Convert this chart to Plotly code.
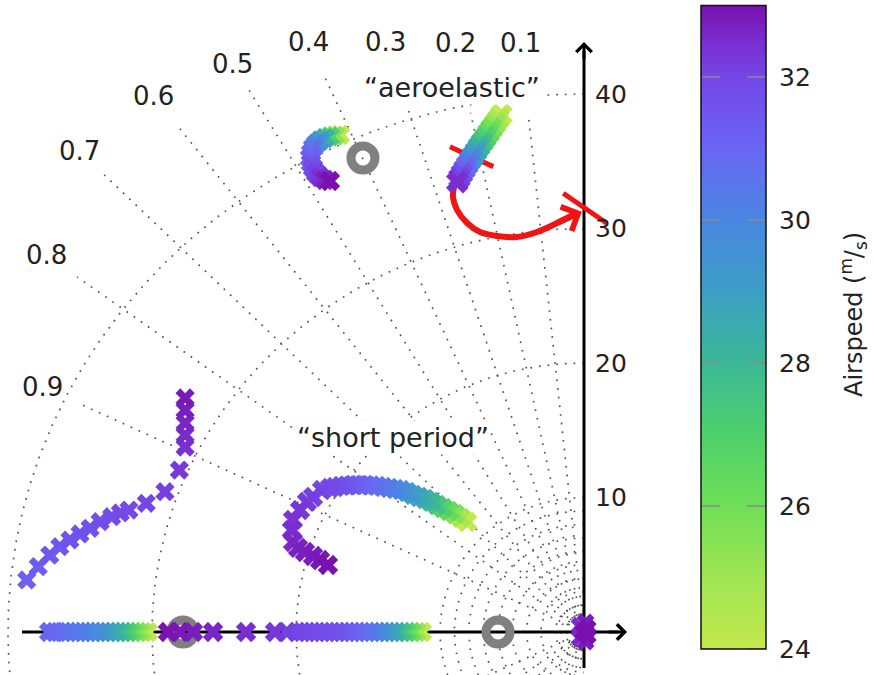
import numpy as np
import plotly.graph_objects as go

# ---------------- grid (s-plane) ----------------
zeta_values = [0.1, 0.2, 0.3, 0.4, 0.5, 0.6, 0.7, 0.8, 0.9]
zeta_line_radius = [38.6, 39.4, 40.6, 45.4, 46.7, 47.1, 47.6, 44.0, 39.0]
zeta_label_radius = [44.0, 44.7, 46.0, 47.9, 48.8, 49.8, 50.05, 46.7, 41.75]
wn_circles = [0.8, 1.2, 1.6, 2, 3, 4, 5, 6, 7, 8, 9, 10, 20, 30, 40]
imag_ticks = [10, 20, 30, 40]
cbar_ticks = [24, 26, 28, 30, 32]
airspeed_range = [24, 33]

# ---------------- root-locus data (airspeed in m/s, poles in 1/s) ----------------
# "aeroelastic" mode, branch near imaginary axis
aeroA_speed = [24.0, 24.6, 25.2, 25.8, 26.4, 27.0, 27.6, 28.2, 28.8, 29.4, 30.0, 30.6, 31.2, 31.7, 32.1, 32.5]
aeroA_re = [-5.74, -5.96, -6.18, -6.41, -6.63, -6.85, -7.07, -7.29, -7.50, -7.71, -7.91, -8.11, -8.30, -8.48, -8.65, -8.80]
aeroA_im = [38.45, 38.12, 37.78, 37.44, 37.10, 36.76, 36.42, 36.08, 35.74, 35.40, 35.07, 34.73, 34.40, 34.07, 33.75, 33.45]

# "aeroelastic" mode, second branch (near zero)
aeroB_speed = [24.0, 25.5, 27.0, 28.3, 29.3, 30.0, 30.5, 30.9, 31.2, 31.5, 31.8, 32.1, 32.4, 32.7, 33.0]
aeroB_re = [-16.94, -17.29, -17.64, -17.99, -18.33, -18.61, -18.82, -18.96, -19.03, -18.96, -18.82, -18.61, -18.33, -17.99, -17.64]
aeroB_im = [36.95, 36.91, 36.84, 36.73, 36.54, 36.28, 35.99, 35.61, 35.24, 34.87, 34.50, 34.13, 33.83, 33.61, 33.53]

# "short period" mode
sp_speed = [24.0, 24.8, 25.6, 26.3, 26.9, 27.5, 28.0, 28.4, 28.8, 29.1, 29.4, 29.7, 30.0, 30.2, 30.4, 30.6,
            30.8, 31.0, 31.2, 31.35, 31.5, 31.65, 31.8, 31.9,
            32.0, 32.1, 32.2, 32.3, 32.4, 32.5, 32.6, 32.7, 32.75, 32.8, 32.9, 33.0]
sp_re = [-8.12, -8.54, -8.96, -9.38, -9.79, -10.21, -10.62, -11.04, -11.46, -11.87, -12.29, -12.71, -13.12, -13.54,
         -13.96, -14.37, -14.79, -15.21, -15.62, -16.04, -16.46, -16.87, -17.29, -17.64,
         -18.19, -18.82, -19.24, -19.72, -20.21, -20.28, -20.21, -19.86, -19.38, -18.82, -18.33, -17.78]
sp_im = [8.18, 8.48, 8.77, 9.00, 9.22, 9.44, 9.67, 9.89, 10.04, 10.19, 10.41, 10.56, 10.63, 10.71, 10.78, 10.86,
         10.89, 10.93, 10.93, 10.93, 10.89, 10.86, 10.78, 10.71,
         10.56, 10.04, 9.67, 9.07, 8.33, 7.58, 6.69, 6.25, 5.95, 5.65, 5.35, 4.98]

# complex branch coming in from the left
left_speed = [31.2, 31.3, 31.4, 31.5, 31.6, 31.65, 31.7, 31.75, 31.8, 31.85, 31.9, 32.0, 32.15, 32.3, 32.45, 32.55, 32.65, 32.75, 32.85]
left_re = [-38.7, -37.9, -37.1, -36.4, -35.7, -35.0, -34.3, -33.6, -32.8, -32.2, -31.6, -30.4, -29.1, -28.1,
           -27.7, -27.7, -27.7, -27.7, -27.7]
left_im = [3.87, 4.86, 5.72, 6.34, 6.84, 7.29, 7.71, 8.20, 8.57, 8.85, 9.07, 9.57, 10.43, 12.04,
           13.75, 14.65, 15.54, 16.50, 17.40]

# real poles, left group
realA_speed = [24.0, 24.8, 25.6, 26.3, 27.0, 27.6, 28.1, 28.5, 28.9, 29.2, 29.5, 29.7, 29.9, 30.1, 30.3, 30.4, 30.5, 30.6, 30.8, 31.0]
realA_re = [-30.28, -30.63, -30.97, -31.32, -31.67, -32.01, -32.36, -32.71, -33.06, -33.40, -33.75, -34.10, -34.44,
            -34.79, -35.14, -35.49, -35.83, -36.18, -36.74, -37.15]
realA_im = [0.0, 0.0, 0.0, 0.0, 0.0, 0.0, 0.0, 0.0, 0.0, 0.0, 0.0, 0.0, 0.0, 0.0, 0.0, 0.0, 0.0, 0.0, 0.0, 0.0]

# real poles, right group
realB_speed = [24.0, 25.0, 26.0, 26.8, 27.5, 28.1, 28.6, 29.1, 29.5, 29.9, 30.2, 30.5, 30.7, 30.9, 31.1, 31.25, 31.4,
               31.5, 31.6, 31.7, 31.75, 31.8, 31.85, 31.9, 31.95, 32.0,
               32.1, 32.3, 32.5, 32.65, 32.75, 32.85, 32.95]
realB_re = [-11.25, -11.60, -11.94, -12.29, -12.64, -12.99, -13.33, -13.68, -14.03, -14.37, -14.72, -15.07, -15.42,
            -15.76, -16.11, -16.46, -16.81, -17.15, -17.50, -17.85, -18.19, -18.54, -18.89, -19.24, -19.58, -19.93,
            -20.63, -21.46, -23.47, -25.76, -27.15, -28.06, -28.89]
realB_im = [0.0, 0.0, 0.0, 0.0, 0.0, 0.0, 0.0, 0.0, 0.0, 0.0, 0.0, 0.0, 0.0, 0.0, 0.0, 0.0, 0.0, 0.0, 0.0, 0.0,
            0.0, 0.0, 0.0, 0.0, 0.0, 0.0, 0.0, 0.0, 0.0, 0.0, 0.0, 0.0, 0.0]

# poles clustered at the origin
origin_speed = [32.6, 32.6, 32.8, 32.8, 33.0, 33.0, 33.0]
origin_re = [-0.30, -0.30, 0.10, 0.10, -0.05, 0.25, 0.25]
origin_im = [0.45, -0.45, 0.70, -0.70, 0.0, 0.25, -0.25]

# transmission zeros
zero_re = [-27.85, -5.97, -15.35]
zero_im = [0.0, 0.0, 35.24]

# red flutter annotation (arrow path and crossing ticks)
flutter_arrow_re = [-8.96, -9.10, -8.82, -8.12, -7.22, -6.04, -4.65, -3.26, -1.87, -0.49]
flutter_arrow_im = [33.38, 32.34, 31.38, 30.41, 29.74, 29.44, 29.37, 29.74, 30.41, 31.15]
flutter_tip = (-0.15, 31.25)
flutter_tick1_re = [-9.31, -6.30]
flutter_tick1_im = [36.08, 34.60]
flutter_tick2_re = [-1.44, 1.58]
flutter_tick2_im = [32.62, 30.39]

# ---------------- styling / geometry ----------------
W, H = 873, 675
KX, KY = 14.4, 13.45          # px per unit
ORIGIN_PX = (584, 632)
PLOT_W = 690
X0 = -ORIGIN_PX[0] / KX
X1 = (PLOT_W - ORIGIN_PX[0]) / KX
Y0 = -(H - ORIGIN_PX[1]) / KY
Y1 = ORIGIN_PX[1] / KY

colorscale = [
    [0.000, "#c4e84c"],
    [0.111, "#9fe553"],
    [0.222, "#6fdf57"],
    [0.333, "#4fd06c"],
    [0.444, "#3bb896"],
    [0.556, "#3c9fc4"],
    [0.667, "#4a86e2"],
    [0.778, "#6a66f4"],
    [0.889, "#7546e6"],
    [0.944, "#7a2ed0"],
    [1.000, "#7a10ae"],
]
FONT = "DejaVu Sans"
TXT = "#222222"

fig = go.Figure()

# grid
gx, gy = [], []
for z, r in zip(zeta_values, zeta_line_radius):
    s = np.sqrt(1 - z * z)
    gx += [0, -z * r, None, 0, -z * r, None]
    gy += [0, s * r, None, 0, -s * r, None]
th = np.linspace(np.pi / 2, 3 * np.pi / 2, 400)
for r in wn_circles:
    gx += list(r * np.cos(th)) + [None]
    gy += list(r * np.sin(th)) + [None]
fig.add_trace(go.Scatter(x=gx, y=gy, mode="lines", hoverinfo="skip",
                         line=dict(color="#555555", width=1.7, dash="1.7px,7px")))

# axes lines
fig.add_trace(go.Scatter(x=[-39.03, 2.4], y=[0, 0], mode="lines", line=dict(color="black", width=3), hoverinfo="skip"))
fig.add_trace(go.Scatter(x=[0, 0], y=[-2.68, 43.2], mode="lines", line=dict(color="black", width=3), hoverinfo="skip"))

# red flutter annotation (beneath the loci)
RED = "#f01414"
fig.add_trace(go.Scatter(x=flutter_arrow_re, y=flutter_arrow_im, mode="lines",
                         line=dict(color=RED, width=6, shape="spline"), hoverinfo="skip"))
fig.add_trace(go.Scatter(x=flutter_tick1_re, y=flutter_tick1_im, mode="lines", line=dict(color=RED, width=5)))
fig.add_trace(go.Scatter(x=flutter_tick2_re, y=flutter_tick2_im, mode="lines", line=dict(color=RED, width=5)))

# zeros
fig.add_trace(go.Scatter(x=zero_re, y=zero_im, mode="markers",
                         marker=dict(symbol="circle-open", size=24, color="#808080", line=dict(width=9))))


def poles(re, im, speed, size):
    fig.add_trace(go.Scatter(x=re, y=im, mode="markers",
                             marker=dict(symbol="x", size=size, color=speed, coloraxis="coloraxis",
                                         line=dict(width=0))))


poles(realA_re, realA_im, realA_speed, 18)
poles(realB_re, realB_im, realB_speed, 18)
poles(left_re, left_im, left_speed, 17)
poles(sp_re, sp_im, sp_speed, 18)
poles(aeroB_re, aeroB_im, aeroB_speed, 18)
poles(aeroA_re, aeroA_im, aeroA_speed, 20)
poles(origin_re, origin_im, origin_speed, 16)

# colour bar drawn as a gradient strip on its own axes
ramp = np.linspace(airspeed_range[0], airspeed_range[1], 361)
fig.add_trace(go.Heatmap(z=[[v] for v in ramp], y=ramp, x=[0.5], coloraxis="coloraxis",
                         xaxis="x2", yaxis="y2", hoverinfo="skip"))

annotations = []
# arrow heads of axes
annotations.append(dict(x=2.99, y=0, ax=1.6, ay=0, xref="x", yref="y", axref="x", ayref="y", text="",
                        showarrow=True, arrowhead=4, arrowsize=1, arrowwidth=3, arrowcolor="black"))
annotations.append(dict(x=0, y=43.87, ax=0, ay=42.5, xref="x", yref="y", axref="x", ayref="y", text="",
                        showarrow=True, arrowhead=4, arrowsize=1, arrowwidth=3, arrowcolor="black"))
# red arrow head
annotations.append(dict(x=flutter_tip[0], y=flutter_tip[1], ax=flutter_arrow_re[-2], ay=flutter_arrow_im[-2],
                        xref="x", yref="y", axref="x", ayref="y", text="",
                        showarrow=True, arrowhead=4, arrowsize=0.85, arrowwidth=6, arrowcolor=RED))
# damping labels
for z, r in zip(zeta_values, zeta_label_radius):
    annotations.append(dict(x=-z * r, y=np.sqrt(1 - z * z) * r, xref="x", yref="y", text=f"{z:.1f}",
                            showarrow=False, font=dict(family=FONT, size=26, color=TXT)))
annotations.append(dict(x=-9.17, y=40.45, xref="x", yref="y", text="\u201caeroelastic\u201d", showarrow=False,
                        bgcolor="white", font=dict(family=FONT, size=27, color=TXT)))
annotations.append(dict(x=-13.26, y=14.43, xref="x", yref="y", text="\u201cshort period\u201d", showarrow=False,
                        bgcolor="white", font=dict(family=FONT, size=27, color=TXT)))

# colour-bar geometry (pixels)
CB_LEFT, CB_RIGHT, CB_TOP, CB_BOT = 701, 766, 5.5, 649
CB_TICK_FRAC = 19 / (CB_RIGHT - CB_LEFT)
shapes = []
for v in cbar_ticks:
    for a, b in [(0, CB_TICK_FRAC), (1 - CB_TICK_FRAC, 1)]:
        shapes.append(dict(type="line", xref="x2 domain", yref="y2", x0=a, x1=b, y0=v, y1=v,
                           line=dict(color="#8a8a8a", width=1.5), layer="above"))
shapes.append(dict(type="rect", xref="x2 domain", yref="y2 domain", x0=0, x1=1, y0=0, y1=1,
                   line=dict(color="#111", width=1.5), layer="above"))
# colour-bar title
annotations.append(dict(x=853 / W, y=1 - 315 / H, xref="paper", yref="paper", textangle=-90,
                        text="Airspeed (<sup>m</sup>/<sub>s</sub>)", showarrow=False,
                        xanchor="center", yanchor="middle", font=dict(family=FONT, size=24, color=TXT)))

fig.update_layout(
    width=W, height=H, margin=dict(l=0, r=0, t=0, b=0, pad=0, autoexpand=False),
    paper_bgcolor="white", plot_bgcolor="white", showlegend=False,
    font=dict(family=FONT, color=TXT),
    xaxis=dict(range=[X0, X1], domain=[0, PLOT_W / W], visible=False, automargin=False),
    yaxis=dict(range=[Y0, Y1], domain=[0, 1], anchor="free", position=ORIGIN_PX[0] / W, side="right",
               tickvals=imag_ticks, ticks="", showgrid=False, zeroline=False, showline=False, automargin=False,
               tickfont=dict(family=FONT, size=25, color=TXT), ticklabelstandoff=10),
    xaxis2=dict(domain=[CB_LEFT / W, CB_RIGHT / W], range=[0, 1], visible=False, fixedrange=True,
                automargin=False, anchor="y2"),
    yaxis2=dict(domain=[1 - CB_BOT / H, 1 - CB_TOP / H], range=airspeed_range, anchor="x2", side="right",
                tickvals=cbar_ticks, ticks="", showgrid=False, zeroline=False, showline=False, automargin=False,
                tickfont=dict(family=FONT, size=25, color=TXT), ticklabelstandoff=12, fixedrange=True),
    coloraxis=dict(colorscale=colorscale, cmin=airspeed_range[0], cmax=airspeed_range[1], showscale=False),
    annotations=annotations,
    shapes=shapes,
)

fig.write_html("out.html", config={"displayModeBar": False},
               post_script="document.body.style.margin='0';document.body.style.overflow='hidden';")
